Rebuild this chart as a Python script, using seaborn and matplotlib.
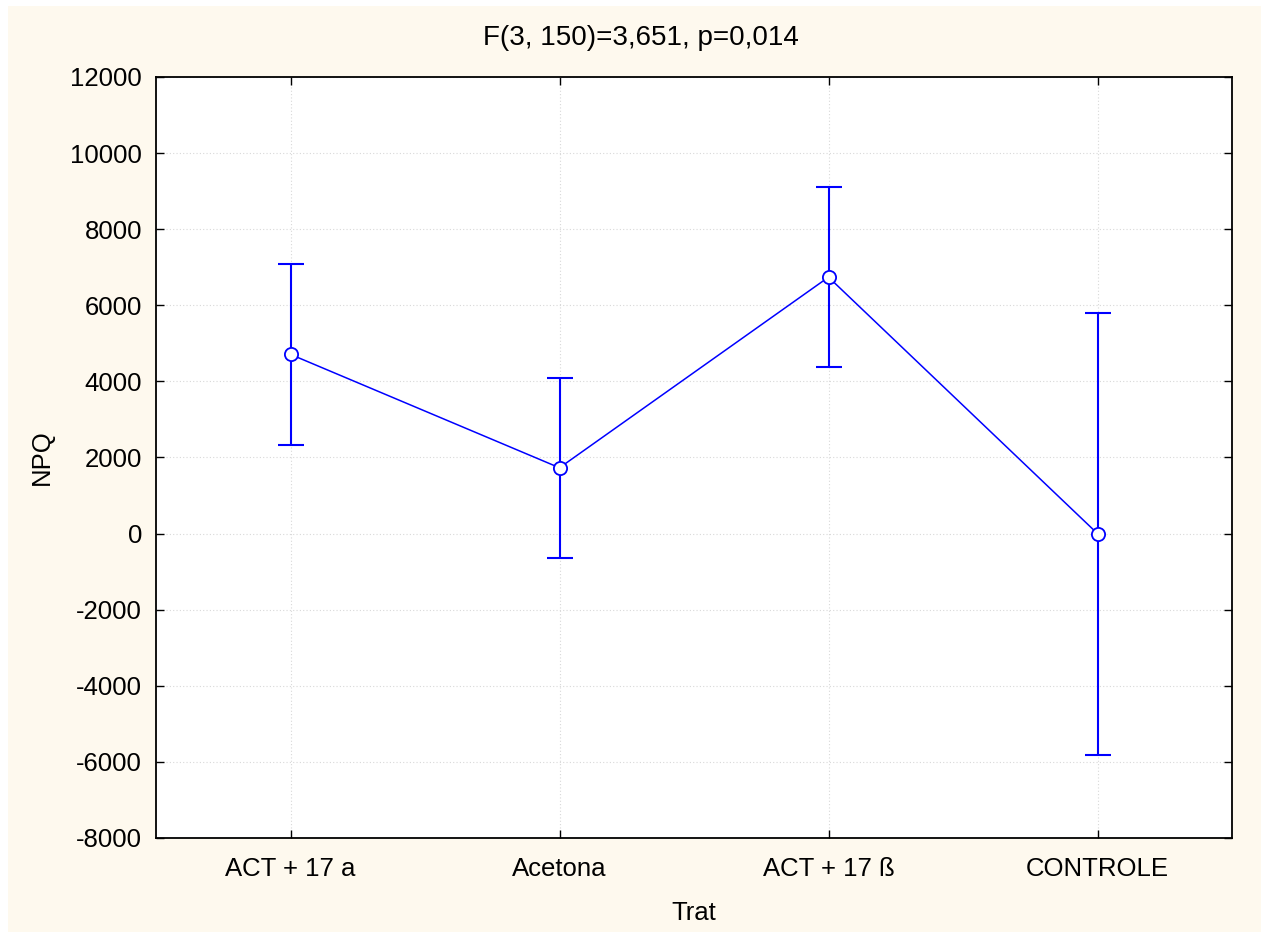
import matplotlib
matplotlib.use("Agg")
import matplotlib.pyplot as plt
import seaborn as sns
import pandas as pd
from matplotlib.patches import Rectangle

# Treatment groups, means of NPQ and half-width of the confidence interval
tratamentos = ["ACT + 17 a", "Acetona", "ACT + 17 ß", "CONTROLE"]
media_npq = [4710, 1730, 6740, 0]
ic_npq = [2370, 2370, 2370, 5810]
titulo = "F(3, 150)=3,651, p=0,014"

df = pd.DataFrame({"Trat": tratamentos, "NPQ": media_npq, "IC": ic_npq})

sns.set_theme(style="white")
plt.rcParams["font.family"] = ["Liberation Sans", "DejaVu Sans"]
plt.rcParams["axes.unicode_minus"] = False

W, H = 1261, 932
fig = plt.figure(figsize=(W / 100, H / 100), dpi=100, facecolor="white")
fig.patches.append(Rectangle((8 / W, 0), 1 - 8 / W, 1 - 6 / H,
                             transform=fig.transFigure, facecolor="#fef9ee",
                             edgecolor="none", zorder=-10))

ax = fig.add_axes([156 / W, 1 - 838 / H, (1232 - 156) / W, (838 - 77) / H])
ax.set_facecolor("white")

blue = "#0000ff"
x = list(range(len(tratamentos)))
ax.errorbar(x, df["NPQ"], yerr=df["IC"], fmt="none", ecolor=blue,
            elinewidth=1.5, capsize=9.5, capthick=1.5, zorder=3)
sns.lineplot(data=df, x="Trat", y="NPQ", sort=False, ax=ax, color=blue,
             linewidth=1.1, marker="o", markersize=9.5,
             markerfacecolor="white", markeredgecolor=blue,
             markeredgewidth=1.3, zorder=4)

ax.set_xlim(-0.5, len(tratamentos) - 0.5)
ax.set_ylim(-8000, 12000)
ax.set_yticks(range(-8000, 12001, 2000))
ax.set_xticks(x)
ax.set_xticklabels(tratamentos)

ax.grid(True, which="major", axis="both", color="#d8d8d8",
        linestyle=(0, (1, 2)), linewidth=0.8)
ax.set_axisbelow(True)

for s in ax.spines.values():
    s.set_color("black")
    s.set_linewidth(1.3)

ax.tick_params(axis="both", direction="in", length=6, width=1.0,
               colors="black", labelsize=18.5, top=True, right=True,
               left=True, bottom=True, labelcolor="black")
ax.tick_params(axis="x", pad=14)
ax.tick_params(axis="y", pad=10)

ax.set_xlabel("Trat", fontsize=18.5, color="black", labelpad=14)
ax.set_ylabel("NPQ", fontsize=18.5, color="black", labelpad=12)

fig.text(641 / W, 1 - 38 / H, titulo, ha="center", va="center",
         fontsize=20, color="black")

fig.savefig("out.png", dpi=100, facecolor=fig.get_facecolor())
